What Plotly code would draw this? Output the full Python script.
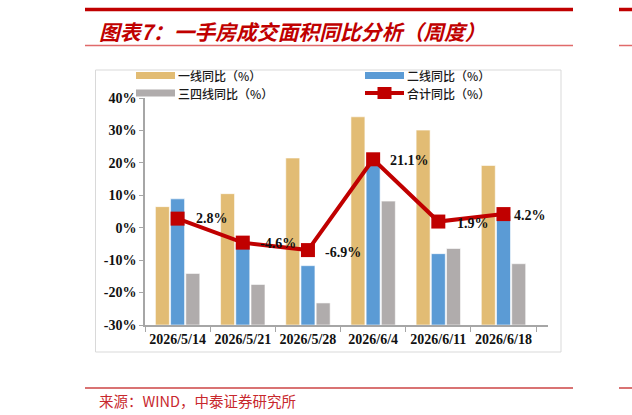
import plotly.graph_objects as go

categories = ["2026/5/14", "2026/5/21", "2026/5/28", "2026/6/4", "2026/6/11", "2026/6/18"]
tier1 = [6.5, 10.5, 21.5, 34.2, 30.1, 19.2]
tier2 = [8.9, -5.0, -11.7, 19.5, -8.0, 3.5]
tier34 = [-14.1, -17.5, -23.2, 8.2, -6.4, -11.1]
total = [2.8, -4.6, -6.9, 21.1, 1.9, 4.2]
total_labels = ["2.8%", "-4.6%", "-6.9%", "21.1%", "1.9%", "4.2%"]
series_names = ["一线同比（%）", "二线同比（%）", "三四线同比（%）", "合计同比（%）"]
tick_vals = [-30, -20, -10, 0, 10, 20, 30, 40]
tick_text = ["-30%", "-20%", "-10%", "0%", "10%", "20%", "30%", "40%"]

Y_MIN, Y_MAX = -30, 40
W, H = 632, 415
PL, PR, PT, PB = 145, 548, 98, 325

RED = "#C00000"
YELLOW = "#E2BC74"
BLUE = "#5B9BD5"
GRAY = "#B0ACAC"
SERIF = "Liberation Serif"
CJK = "Noto Sans CJK SC"


def px(x):
    return (x - PL) / (PR - PL)


def py(y):
    return (PB - y) / (PB - PT)


fig = go.Figure()
for name, vals, col in [(series_names[0], tier1, YELLOW), (series_names[1], tier2, BLUE),
                        (series_names[2], tier34, GRAY)]:
    fig.add_trace(go.Bar(
        x=categories, y=[v - Y_MIN for v in vals], base=Y_MIN, name=name,
        marker=dict(color=col, line=dict(color="white", width=0.6)),
        customdata=vals, hovertemplate="%{x}: %{customdata}%<extra>" + name + "</extra>",
        showlegend=False))

fig.add_trace(go.Scatter(
    x=categories, y=total, name=series_names[3], mode="lines+markers",
    line=dict(color=RED, width=4),
    marker=dict(symbol="square", size=14, color=RED),
    showlegend=False))

# data labels for total line
label_dx = [16, 15.5, 15.5, 15, 16.5, 8.5]
label_dy = [0, -1, -2, -1.5, -2, -1.3]
annotations = []
for c, v, t, dx, dy in zip(categories, total, total_labels, label_dx, label_dy):
    annotations.append(dict(x=c, y=v, xref="x", yref="y", text="<b>" + t + "</b>",
                            showarrow=False, xanchor="left", yanchor="middle",
                            xshift=dx, yshift=dy,
                            font=dict(family=SERIF, size=14, color="#111111")))

# title and footer
annotations.append(dict(x=px(97), y=py(31), xref="paper", yref="paper",
                        text="<b>图表7：一手房成交面积同比分析（周度）</b>", showarrow=False,
                        xanchor="left", yanchor="middle",
                        font=dict(family=CJK, size=20.8, color=RED, style="italic")))
annotations.append(dict(x=px(97), y=py(400), xref="paper", yref="paper",
                        text="来源：WIND，中泰证券研究所", showarrow=False,
                        xanchor="left", yanchor="middle",
                        font=dict(family=CJK, size=14.5, color="#C8282D")))

shapes = []
# frame
shapes.append(dict(type="rect", xref="paper", yref="paper", x0=px(95.5), x1=px(561), y0=py(70), y1=py(352),
                   line=dict(color="#D9D9D9", width=1), layer="below"))
# title lines
for x0, x1 in [(85, 573), (619, 640)]:
    shapes.append(dict(type="line", xref="paper", yref="paper", x0=px(x0), x1=px(x1), y0=py(9.5), y1=py(9.5),
                       line=dict(color=RED, width=3.5)))
    shapes.append(dict(type="line", xref="paper", yref="paper", x0=px(x0), x1=px(x1), y0=py(45.5), y1=py(45.5),
                       line=dict(color="#E06A6A", width=1.5)))
    shapes.append(dict(type="line", xref="paper", yref="paper", x0=px(x0), x1=px(x1), y0=py(388), y1=py(388),
                       line=dict(color="#D97373", width=2)))

# legend (manual): two columns, two rows
ROW1, ROW2 = 75.5, 93
columns = [(136, [(series_names[0], YELLOW, "bar"), (series_names[2], GRAY, "bar")]),
           (365, [(series_names[1], BLUE, "bar"), (series_names[3], RED, "line")])]
for lx, items in columns:
    for (text, col, kind), ly in zip(items, [ROW1, ROW2]):
        if kind == "bar":
            shapes.append(dict(type="rect", xref="paper", yref="paper", x0=px(lx), x1=px(lx + 39),
                               y0=py(ly - 3.5), y1=py(ly + 3.5), fillcolor=col, line=dict(width=0)))
        else:
            shapes.append(dict(type="line", xref="paper", yref="paper", x0=px(lx), x1=px(lx + 39),
                               y0=py(ly), y1=py(ly), line=dict(color=col, width=4)))
            shapes.append(dict(type="rect", xref="paper", yref="paper", x0=px(lx + 12.5), x1=px(lx + 26.5),
                               y0=py(ly - 6), y1=py(ly + 6), fillcolor=col, line=dict(width=0)))
        annotations.append(dict(x=px(lx + 41), y=py(ly), xref="paper", yref="paper", text=text,
                                showarrow=False, xanchor="left", yanchor="middle", borderpad=0,
                                font=dict(family=CJK, size=12, color="#1a1a1a", weight=500)))

fig.update_layout(
    width=W, height=H,
    margin=dict(l=PL, r=W - PR, t=PT, b=H - PB, autoexpand=False),
    paper_bgcolor="white", plot_bgcolor="white",
    barmode="group", bargap=0.3, bargroupgap=0.08,
    showlegend=False,
    annotations=annotations, shapes=shapes,
    xaxis=dict(type="category", showgrid=False, showline=True, linecolor="#A6A6A6", linewidth=1.5,
               ticks="outside", tickson="boundaries", ticklen=5, tickcolor="#A6A6A6", tickangle=0,
               tickfont=dict(family=SERIF, size=14, color="#111111", weight="bold")),
    yaxis=dict(range=[Y_MIN, Y_MAX], tickvals=tick_vals, ticktext=tick_text, showgrid=False,
               zeroline=False, showline=True, linecolor="#A6A6A6", linewidth=1.5,
               ticks="outside", ticklen=4, tickcolor="#A6A6A6",
               tickfont=dict(family=SERIF, size=14, color="#111111", weight="bold")),
)

fig.write_html("out.html", config={"displayModeBar": False},
               post_script="document.body.style.margin='0';document.body.style.overflow='hidden';")
